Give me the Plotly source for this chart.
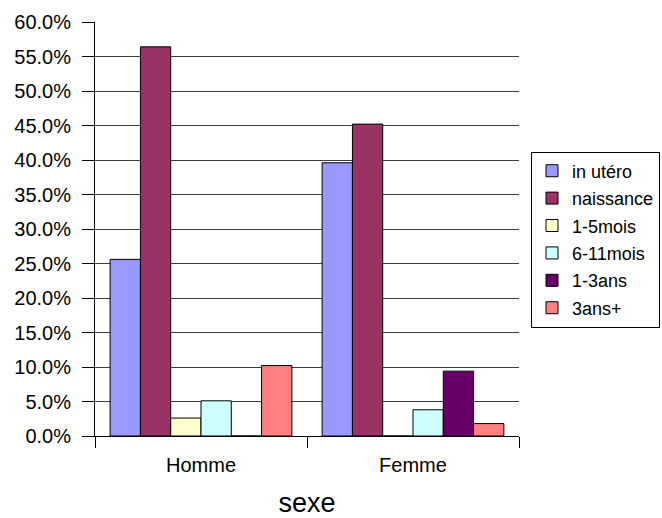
import plotly.graph_objects as go

# Répartition par sexe selon l'âge
categories = ["Homme", "Femme"]
series_names = ["in utéro", "naissance", "1-5mois", "6-11mois", "1-3ans", "3ans+"]
in_utero = [0.256, 0.396]
naissance = [0.564, 0.452]
mois_1_5 = [0.026, 0.0]
mois_6_11 = [0.051, 0.038]
ans_1_3 = [0.0, 0.094]
ans_3_plus = [0.102, 0.018]
y_ticks = [i * 0.05 for i in range(13)]

series_values = [in_utero, naissance, mois_1_5, mois_6_11, ans_1_3, ans_3_plus]
colors = ["#9999FF", "#993366", "#FFFFCC", "#CCFFFF", "#660066", "#FF8080"]

FONT = "Arial, Liberation Sans, sans-serif"

fig = go.Figure()
for name, vals, col in zip(series_names, series_values, colors):
    fig.add_trace(go.Bar(
        name=name, x=categories, y=vals, legendgroup=name,
        marker=dict(color=col, line=dict(color="black", width=1)),
    ))

fig.update_layout(
    width=662, height=518,
    margin=dict(l=95, r=143, t=22, b=82, autoexpand=False),
    paper_bgcolor="white", plot_bgcolor="white",
    barmode="group", bargap=1/7, bargroupgap=0,
    font=dict(family=FONT, size=18, color="black"),
    showlegend=True,
    legend=dict(
        xref="container", yref="container",
        x=0.997, y=0.5376, yanchor="middle", xanchor="right",
        bordercolor="black", borderwidth=1, bgcolor="white",
        font=dict(family=FONT, size=18, color="black"),
        tracegroupgap=1, itemwidth=30,
    ),
    xaxis=dict(
        type="category", tickson="boundaries", ticks="outside", ticklen=11,
        tickcolor="black", showline=True, linecolor="black", linewidth=1,
        showgrid=False, tickfont=dict(size=20), ticklabelstandoff=11,
        automargin=False,
        title=dict(text="sexe", font=dict(size=27), standoff=28),
    ),
    yaxis=dict(
        range=[0, 0.6], tickvals=y_ticks, tickformat=".1%",
        ticks="outside", ticklen=12, tickcolor="black",
        showline=True, linecolor="black", linewidth=1,
        showgrid=True, gridcolor="#3c3c3c", gridwidth=1,
        zeroline=True, zerolinecolor="black", zerolinewidth=1,
        tickfont=dict(size=20), ticklabelstandoff=7, automargin=False,
    ),
)

fig.write_html("out.html")
